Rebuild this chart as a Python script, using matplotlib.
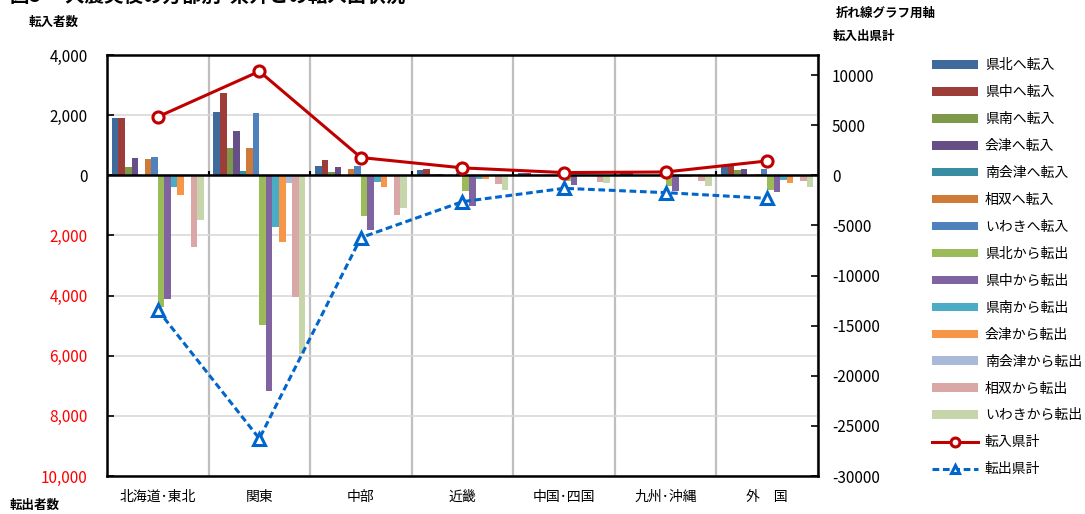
import matplotlib
matplotlib.use('Agg')
import matplotlib.pyplot as plt
import numpy as np
from matplotlib.ticker import FuncFormatter, MultipleLocator

plt.rcParams['font.family'] = ['Noto Sans CJK JP', 'DejaVu Sans']

categories = ['北海道･東北', '関東', '中部', '近畿', '中国･四国', '九州･沖縄', '外　国']

# 転入 (county-side destination)
kenpoku_in = [1900, 2090, 310, 190, 60, 60, 300]
kenchu_in = [1900, 2720, 500, 220, 70, 80, 330]
kennan_in = [280, 900, 110, 30, 10, 10, 190]
aizu_in = [590, 1480, 270, 40, 10, 20, 220]
minamiaizu_in = [20, 145, 10, 5, 0, 0, 0]
soso_in = [530, 920, 220, 20, 10, 10, 50]
iwaki_in = [620, 2070, 300, 60, 30, 30, 220]

# 転出 (negative = moving out)
kenpoku_out = [-4390, -4970, -1360, -530, -200, -360, -480]
kenchu_out = [-4110, -7160, -1820, -1010, -330, -520, -570]
kennan_out = [-380, -1710, -220, -120, -40, -70, -160]
aizu_out = [-670, -2210, -380, -120, -30, -50, -250]
minamiaizu_out = [-30, -245, -30, -20, -10, -10, -10]
soso_out = [-2370, -4040, -1330, -290, -230, -200, -190]
iwaki_out = [-1490, -5930, -1080, -480, -250, -360, -400]

# totals for the secondary axis
tennyu_total = [5830, 10370, 1770, 740, 270, 330, 1430]
tenshutsu_total = [-13430, -26270, -6220, -2630, -1300, -1730, -2300]

series = [
    ('県北へ転入', kenpoku_in, '#3E6A9C'),
    ('県中へ転入', kenchu_in, '#9C3D3A'),
    ('県南へ転入', kennan_in, '#7E9A48'),
    ('会津へ転入', aizu_in, '#664F87'),
    ('南会津へ転入', minamiaizu_in, '#398DA3'),
    ('相双へ転入', soso_in, '#CF7B37'),
    ('いわきへ転入', iwaki_in, '#4F81BD'),
    ('県北から転出', kenpoku_out, '#9BBB59'),
    ('県中から転出', kenchu_out, '#8064A2'),
    ('県南から転出', kennan_out, '#4BACC6'),
    ('会津から転出', aizu_out, '#F79646'),
    ('南会津から転出', minamiaizu_out, '#A9B9D8'),
    ('相双から転出', soso_out, '#D9A7A6'),
    ('いわきから転出', iwaki_out, '#C6D6AA'),
]

fig = plt.figure(figsize=(10.85, 5.14), dpi=100)
ax = fig.add_axes([0.0986, 0.0739, 0.6553, 0.8191])

x = np.arange(len(categories))
n = len(series)
group_w = 0.905
bw = group_w / n

handles = []
for i, (label, vals, color) in enumerate(series):
    offs = -group_w / 2 + bw * (i + 0.5)
    h = ax.bar(x + offs, vals, width=bw, color=color, label=label, zorder=3)
    handles.append(h)

ax.set_xlim(-0.5, len(categories) - 0.5)
ax.set_ylim(-10000, 4000)
ax.yaxis.set_major_locator(MultipleLocator(2000))
ax.yaxis.set_major_formatter(FuncFormatter(lambda v, p: f'{abs(v):,.0f}'))
ax.set_xticks(x)
ax.set_xticklabels(categories, fontsize=10)
ax.set_xticks(np.arange(len(categories) + 1) - 0.5, minor=True)
ax.tick_params(axis='x', which='both', length=0, pad=10)
ax.tick_params(axis='y', direction='in', length=5, width=1.2, labelsize=11, pad=14)
ax.grid(axis='y', color='#D9D9D9', linewidth=1.2, zorder=0)
ax.grid(axis='x', which='minor', color='#BFBFBF', linewidth=1.6, zorder=0)
ax.set_axisbelow(True)
ax.axhline(0, color='black', linewidth=1.8, zorder=4)
ax.vlines(np.arange(1, len(categories)) - 0.5, 0, 150, color='black', linewidth=1.5, zorder=4)
for sp in ax.spines.values():
    sp.set_color('black')
    sp.set_linewidth(1.8)

for lbl, v in zip(ax.get_yticklabels(), ax.get_yticks()):
    lbl.set_color('red' if v < 0 else 'black')

ax2 = ax.twinx()
ax2.set_ylim(-30000, 12000)
ax2.set_yticks(np.arange(-30000, 10001, 5000))
ax2.yaxis.set_major_formatter(FuncFormatter(lambda v, p: f'{v:.0f}'))
ax2.tick_params(axis='y', direction='in', length=5, width=1.2, labelsize=11, pad=10)
for sp in ax2.spines.values():
    sp.set_visible(False)

l1, = ax2.plot(x, tennyu_total, color='#C00000', linewidth=2.2, marker='o',
               markersize=8, markerfacecolor='white', markeredgewidth=2.2,
               label='転入県計', zorder=5)
l2, = ax2.plot(x, tenshutsu_total, color='#0066CC', linewidth=2.2, linestyle=(0, (2.2, 1.2)),
               marker='^', markersize=8, markerfacecolor='white', markeredgewidth=2.2,
               label='転出県計', zorder=5)
handles += [l1, l2]

fig.legend(handles=handles, labels=[h.get_label() for h in handles],
           loc='upper left', bbox_to_anchor=(0.854, 0.897), frameon=False,
           fontsize=10, handlelength=3.3, handleheight=0.55, labelspacing=0.93,
           handletextpad=0.5, borderaxespad=0, markerscale=0.8)

fig.text(0.009, 1.008, '図5　 大震災後の方部別  県外との転入出状況', fontsize=14,
         fontweight='bold', va='center', ha='left')
fig.text(0.026, 0.957, '転入者数', fontsize=9, fontweight='bold', va='center')
fig.text(0.009, 0.016, '転出者数', fontsize=9, fontweight='bold', va='center')
fig.text(0.770, 0.975, '折れ線グラフ用軸', fontsize=9, fontweight='bold', va='center')
fig.text(0.767, 0.929, '転入出県計', fontsize=9, fontweight='bold', va='center')

fig.savefig('out.png', dpi=100)
